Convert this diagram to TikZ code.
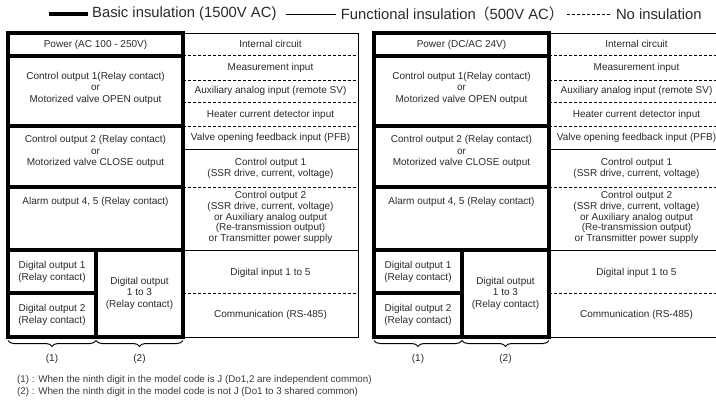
\documentclass[tikz,border=0pt]{standalone}
\usepackage{fontspec}
\setmainfont{Liberation Sans}
\newfontfamily\cjkfont{Noto Sans CJK JP}
\usetikzlibrary{decorations.pathreplacing}
\definecolor{ink}{HTML}{2A2A2A}
\definecolor{noteink}{HTML}{3A3A3A}
\tikzset{
  thickbox/.style={draw=black, line width=3.2pt},
  thinline/.style={draw=black, line width=0.9pt},
  dashline/.style={draw=black, line width=0.9pt, dash pattern=on 3pt off 2pt},
  celltext/.style={text=ink, font=\fontsize{10}{11.5}\selectfont, align=center, inner sep=0pt},
  densetext/.style={text=ink, font=\fontsize{10}{10.8}\selectfont, align=center, inner sep=0pt},
  legendtext/.style={text=ink, font=\fontsize{14.8}{16}\selectfont, inner sep=0pt},
  notetext/.style={text=noteink, font=\fontsize{9.8}{11}\selectfont, inner sep=0pt, anchor=west},
  bracepath/.style={draw=black, line width=1pt, decorate, decoration={brace, amplitude=6pt}},
}

% One isolation block: #1 horizontal offset, #2 name prefix, #3 power supply text
\newcommand{\isotable}[3]{%
\begin{scope}[xshift=#1]
  % signal side
  \draw[thinline] (183,33) rectangle (358,337);
  \draw[dashline] (183,55) -- (358,55);
  \draw[dashline] (183,80) -- (358,80);
  \draw[dashline] (183,102) -- (358,102);
  \draw[dashline] (183,126) -- (358,126);
  \draw[thinline] (183,149) -- (358,149);
  \draw[dashline] (183,187) -- (358,187);
  \draw[thinline] (183,250) -- (358,250);
  \draw[dashline] (183,293) -- (358,293);
  % power and relay side
  \draw[thickbox] (8,33) rectangle (183,56);
  \draw[thickbox] (8,56) rectangle (183,126);
  \draw[thickbox] (8,126) rectangle (183,187);
  \draw[thickbox] (8,187) rectangle (183,250);
  \draw[thickbox] (8,250) rectangle (96,293);
  \draw[thickbox] (8,293) rectangle (96,337);
  \draw[thickbox] (96,250) rectangle (183,337);
  % labels, relay side
  \node[celltext] (#2pwr) at (95.5,44.5) {#3};
  \node[celltext] (#2co1) at (95.5,88) {Control output 1(Relay contact)\\or\\Motorized valve OPEN output};
  \node[celltext] (#2co2) at (95.5,151.5) {Control output 2 (Relay contact)\\or\\Motorized valve CLOSE output};
  \node[celltext] (#2alm) at (95.5,202) {Alarm output 4, 5 (Relay contact)};
  \node[celltext] (#2do1) at (52,272) {Digital output 1\\(Relay contact)};
  \node[celltext] (#2do2) at (52,315) {Digital output 2\\(Relay contact)};
  \node[celltext] (#2dox) at (139.5,293) {Digital output\\1 to 3\\(Relay contact)};
  % labels, signal side
  \node[celltext] (#2int) at (270.5,44) {Internal circuit};
  \node[celltext] (#2pv) at (270.5,67.5) {Measurement input};
  \node[celltext] (#2rsv) at (270.5,91) {Auxiliary analog input (remote SV)};
  \node[celltext] (#2ct) at (270.5,114.5) {Heater current detector input};
  \node[celltext] (#2pfb) at (270.5,137.5) {Valve opening feedback input (PFB)};
  \node[celltext] (#2out1) at (270.5,168.5) {Control output 1\\(SSR drive, current, voltage)};
  \node[densetext] (#2out2) at (270.5,217.5) {Control output 2\\(SSR drive, current, voltage)\\or Auxiliary analog output\\(Re-transmission output)\\or Transmitter power supply};
  \node[celltext] (#2di) at (270.5,273) {Digital input 1 to 5};
  \node[celltext] (#2com) at (270.5,315) {Communication (RS-485)};
  % common groups
  \coordinate (#2ba) at (96,340.5);
  \coordinate (#2bb) at (8,340.5);
  \coordinate (#2bc) at (183,340.5);
  \draw[bracepath] (#2ba) -- (#2bb);
  \draw[bracepath] (#2bc) -- (#2ba);
  \node[celltext] (#2g1) at (52,359) {(1)};
  \node[celltext] (#2g2) at (139.5,359) {(2)};
\end{scope}}

\begin{document}
\begin{tikzpicture}[x=1pt, y=-1pt]
  \useasboundingbox (0,0) rectangle (716,400);
  \clip (0,0) rectangle (716,400);
  \fill[white] (0,0) rectangle (716,400);

  % legend
  \coordinate (lgA) at (49,14);
  \coordinate (lgB) at (88,14);
  \draw[line width=3.2pt] (lgA) -- (lgB);
  \node[legendtext, anchor=west] (lgbasic) at ([xshift=4pt]lgB) {Basic insulation (1500V AC)};
  \coordinate (lgC) at ([xshift=9pt]lgbasic.east);
  \coordinate (lgD) at ([xshift=50pt]lgC);
  \draw[thinline] (lgC) -- (lgD);
  \node[legendtext, anchor=west] (lgfunc) at ([xshift=5pt]lgD) {Functional insulation{\cjkfont \kern-1pt（}500V AC{\cjkfont ）}};
  \coordinate (lgE) at ([xshift=3pt]lgfunc.east);
  \coordinate (lgF) at ([xshift=45pt]lgE);
  \draw[dashline] (lgE) -- (lgF);
  \node[legendtext, anchor=west] (lgnone) at ([xshift=4pt]lgF) {No insulation};

  \isotable{0pt}{L}{Power (AC 100 - 250V)}
  \isotable{366pt}{R}{Power (DC/AC 24V)}

  % notes
  \node[notetext] (note1) at (17,380) {(1) : When the ninth digit in the model code is J (Do1,2 are independent common)};
  \node[notetext] (note2) at (17,392) {(2) : When the ninth digit in the model code is not J (Do1 to 3 shared common)};
\end{tikzpicture}
\end{document}
